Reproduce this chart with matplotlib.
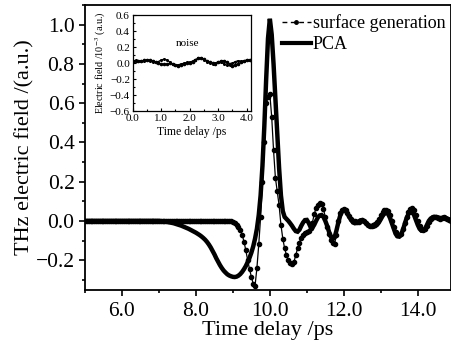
import numpy as np
import matplotlib
matplotlib.use("Agg")
import matplotlib.pyplot as plt
from matplotlib.lines import Line2D
from matplotlib.ticker import MultipleLocator, FuncFormatter

plt.rcParams['font.family'] = ['Liberation Serif', 'DejaVu Serif']
plt.rcParams['mathtext.fontset'] = 'stix'

# time grid of the main traces (ps), one sample every 0.05 ps
t_main = np.round(5.0 + 0.05 * np.arange(200), 2)

# surface generation trace, rows of 10 samples (0.5 ps each)
surface = [
    0.0, 0.0, 0.0, 0.0, 0.0, 0.0, 0.0, 0.0, 0.0, 0.0,              # 5.0
    0.0, 0.0, 0.0, 0.0, 0.0, 0.0, 0.0, 0.0, 0.0, 0.0,              # 5.5
    0.0, 0.0, 0.0, 0.0, 0.0, 0.0, 0.0, 0.0, 0.0, 0.0,              # 6.0
    0.0, 0.0, 0.0, 0.0, 0.0, 0.0, 0.0, 0.0, 0.0, 0.0,              # 6.5
    0.0, 0.0, 0.0, 0.0, 0.0, 0.0, 0.0, 0.0, 0.0, 0.0,              # 7.0
    0.0, 0.0, 0.0, 0.0, 0.0, 0.0, 0.0, 0.0, 0.0, 0.0,              # 7.5
    0.0, 0.0, 0.0, 0.0, 0.0, 0.0, 0.0, 0.0, 0.0, 0.0,              # 8.0
    0.0, 0.0, 0.0, 0.0, 0.0, 0.0, 0.0, 0.0, 0.0, -0.003,           # 8.5
    -0.006, -0.012, -0.020, -0.030, -0.045, -0.070, -0.105, -0.150, -0.200, -0.245,  # 9.0
    -0.285, -0.320, -0.330, -0.240, -0.120, 0.020, 0.200, 0.400, 0.600, 0.630,       # 9.5
    0.645, 0.530, 0.360, 0.220, 0.150, 0.080, -0.020, -0.090, -0.140, -0.175,        # 10.0
    -0.200, -0.215, -0.222, -0.210, -0.175, -0.140, -0.110, -0.085, -0.070, -0.060,  # 10.5
    -0.058, -0.050, -0.035, -0.010, 0.035, 0.065, 0.080, 0.090, 0.085, 0.060,        # 11.0
    0.020, -0.030, -0.065, -0.095, -0.110, -0.118, -0.070, 0.000, 0.040, 0.055,      # 11.5
    0.060, 0.055, 0.040, 0.025, 0.012, 0.002, -0.003, -0.005, -0.004, 0.000,         # 12.0
    0.003, 0.000, -0.010, -0.020, -0.025, -0.025, -0.020, -0.015, -0.005, 0.010,     # 12.5
    0.030, 0.045, 0.055, 0.058, 0.050, 0.030, 0.000, -0.030, -0.055, -0.070,         # 13.0
    -0.072, -0.065, -0.040, -0.010, 0.020, 0.045, 0.062, 0.068, 0.055, 0.030,       # 13.5
    0.000, -0.025, -0.040, -0.045, -0.040, -0.025, -0.005, 0.010, 0.020, 0.022,      # 14.0
    0.020, 0.015, 0.012, 0.015, 0.018, 0.015, 0.010, 0.005, 0.000, 0.000,            # 14.5
]

# PCA trace, same grid
pca = [
    0.0, 0.0, 0.0, 0.0, 0.0, 0.0, 0.0, 0.0, 0.0, 0.0,              # 5.0
    0.0, 0.0, 0.0, 0.0, 0.0, 0.0, 0.0, 0.0, 0.0, 0.0,              # 5.5
    0.0, 0.0, 0.0, 0.0, 0.0, 0.0, 0.0, 0.0, 0.0, 0.0,              # 6.0
    0.0, 0.0, 0.0, 0.0, 0.0, 0.0, 0.0, 0.0, 0.0, 0.0,              # 6.5
    0.0, -0.001, -0.002, -0.003, -0.004, -0.006, -0.008, -0.010, -0.012, -0.015,     # 7.0
    -0.018, -0.021, -0.024, -0.028, -0.032, -0.036, -0.040, -0.045, -0.050, -0.055,  # 7.5
    -0.060, -0.066, -0.072, -0.079, -0.087, -0.096, -0.107, -0.120, -0.135, -0.152,  # 8.0
    -0.170, -0.190, -0.208, -0.225, -0.240, -0.253, -0.263, -0.272, -0.278, -0.282,  # 8.5
    -0.285, -0.286, -0.284, -0.279, -0.271, -0.260, -0.246, -0.230, -0.210, -0.188,  # 9.0
    -0.162, -0.130, -0.090, -0.040, 0.030, 0.130, 0.280, 0.480, 0.720, 0.930,        # 9.5
    1.030, 0.950, 0.800, 0.620, 0.430, 0.270, 0.130, 0.050, 0.020, 0.010,            # 10.0
    0.000, -0.012, -0.025, -0.040, -0.052, -0.055, -0.045, -0.025, -0.008, 0.004,    # 10.5
    0.005, -0.010, -0.030, -0.035, -0.020, 0.000, 0.018, 0.028, 0.030, 0.020,        # 11.0
    0.000, -0.025, -0.055, -0.080, -0.092, -0.085, -0.050, -0.010, 0.025, 0.048,     # 11.5
    0.055, 0.050, 0.038, 0.020, 0.005, -0.008, -0.012, -0.010, -0.003, 0.003,        # 12.0
    0.004, -0.002, -0.012, -0.022, -0.028, -0.030, -0.030, -0.027, -0.020, -0.008,   # 12.5
    0.008, 0.025, 0.038, 0.042, 0.035, 0.015, -0.012, -0.040, -0.065, -0.078,        # 13.0
    -0.080, -0.070, -0.045, -0.015, 0.015, 0.035, 0.045, 0.045, 0.030, 0.005,        # 13.5
    -0.020, -0.040, -0.050, -0.050, -0.040, -0.020, 0.000, 0.012, 0.018, 0.020,      # 14.0
    0.020, 0.018, 0.015, 0.015, 0.018, 0.016, 0.012, 0.008, 0.004, 0.002,            # 14.5
]

# inset: noise traces (x 10^-3), one sample every 0.1 ps
t_noise = np.round(0.1 * np.arange(42), 1)
noise_a = [
    0.020, 0.025, 0.030, 0.030, 0.035, 0.040, 0.040, 0.030, 0.015, 0.000,
    -0.010, -0.015, -0.010, 0.000, -0.010, -0.025, -0.030, -0.025, -0.010, 0.000,
    0.005, 0.020, 0.040, 0.060, 0.065, 0.050, 0.030, 0.010, 0.000, -0.005,
    0.010, 0.030, 0.030, 0.015, -0.010, -0.030, -0.025, -0.010, 0.010, 0.025,
    0.035, 0.040,
]
noise_b = [
    0.030, 0.035, 0.030, 0.025, 0.030, 0.035, 0.030, 0.020, 0.010, 0.020,
    0.040, 0.050, 0.040, 0.015, -0.010, -0.020, -0.020, -0.010, 0.000, 0.010,
    0.015, 0.025, 0.045, 0.060, 0.060, 0.045, 0.020, 0.000, -0.005, 0.000,
    0.020, 0.010, -0.010, -0.025, -0.020, 0.000, 0.020, 0.030, 0.025, 0.030,
    0.040, 0.045,
]

# one decimal, real minus sign
fmt1 = FuncFormatter(lambda v, pos: ('%.1f' % v).replace('-', '\u2212') if abs(v) > 1e-9 else '0.0')

fig = plt.figure(figsize=(4.51, 3.52), dpi=100)
ax = fig.add_axes([85/451, 62/352, 366/451, 285/352])

ax.plot(t_main, pca, color='black', lw=3.2, solid_joinstyle='miter')
ax.plot(t_main, surface, color='black', lw=0.9, marker='o', ms=3.0)

ax.set_xlim(5.0, 14.9)
ax.set_ylim(-0.352, 1.10)
ax.xaxis.set_major_locator(MultipleLocator(2.0))
ax.xaxis.set_minor_locator(MultipleLocator(1.0))
ax.yaxis.set_major_locator(MultipleLocator(0.2))
ax.yaxis.set_minor_locator(MultipleLocator(0.1))
ax.xaxis.set_major_formatter(fmt1)
ax.yaxis.set_major_formatter(fmt1)
ax.tick_params(which='both', direction='out', labelsize=15.5, width=1.2, top=False, right=False)
ax.tick_params(which='major', length=4)
ax.tick_params(which='minor', length=2.5)
ax.tick_params(axis='x', pad=5)
for s in ax.spines.values():
    s.set_linewidth(1.3)
ax.set_xlabel('Time delay /ps', fontsize=16, labelpad=0)
ax.set_ylabel('THz electric field /(a.u.)', fontsize=16, labelpad=1)

handles = [
    Line2D([], [], color='black', lw=1.0, ls=(0, (3.5, 2.5)), marker='o', ms=2.5),
    Line2D([], [], color='black', lw=3.0),
]
ax.legend(handles, ['surface generation', 'PCA'], loc='upper left',
          bbox_to_anchor=(282/451, 1 - 14/352), bbox_transform=fig.transFigure,
          frameon=False, fontsize=13, handlelength=1.6, handletextpad=0.1,
          borderpad=0, borderaxespad=0, labelspacing=0.25, numpoints=1)

# inset with the noise
axi = fig.add_axes([132.7/451, 1 - 111/352, 118/451, 95.7/352])
axi.plot(t_noise, noise_a, color='black', lw=0.8, marker='o', ms=1.6)
axi.plot(t_noise, noise_b, color='black', lw=0.9, marker='o', ms=1.2)
axi.set_xlim(0.0, 4.14)
axi.set_ylim(-0.6, 0.6)
axi.xaxis.set_major_locator(MultipleLocator(1.0))
axi.xaxis.set_minor_locator(MultipleLocator(0.5))
axi.yaxis.set_major_locator(MultipleLocator(0.2))
axi.yaxis.set_minor_locator(MultipleLocator(0.1))
axi.xaxis.set_major_formatter(fmt1)
axi.yaxis.set_major_formatter(fmt1)
axi.tick_params(which='both', direction='in', labelsize=8, width=0.8, pad=2)
axi.tick_params(which='major', length=2.5)
axi.tick_params(which='minor', length=1.5)
for s in axi.spines.values():
    s.set_linewidth(0.9)
axi.set_xlabel('Time delay /ps', fontsize=8.5, labelpad=2)
axi.set_ylabel('Electric field /10$^{-3}$ (a.u.)', fontsize=7.3, labelpad=1)
axi.text(1.93, 0.25, 'noise', fontsize=8, ha='center', va='center')

fig.savefig('out.png', dpi=100)
